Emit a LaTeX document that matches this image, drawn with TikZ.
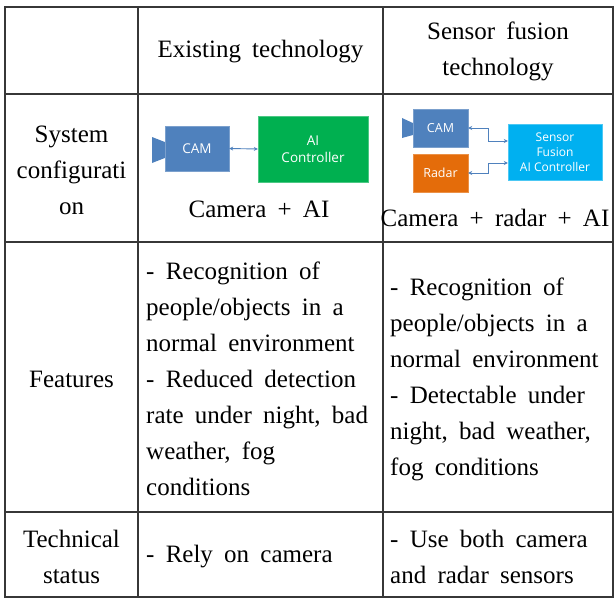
\documentclass[tikz,border=0pt]{standalone}
\usepackage{fontspec}
\setmainfont{Liberation Serif}
\newfontfamily\boxfont{Open Sans}
\definecolor{camblue}{RGB}{79,129,189}
\definecolor{aigreen}{RGB}{0,176,80}
\definecolor{fusblue}{RGB}{0,176,240}
\definecolor{radorange}{RGB}{228,108,10}
\definecolor{gridgray}{RGB}{55,55,55}
\usepackage{tikz}
\usetikzlibrary{arrows.meta,positioning,calc}
\newcommand{\cellfont}{\fontsize{25}{36}\selectfont\spaceskip=0.45em plus 0.2em minus 0.1em\relax}

\begin{document}
\begin{tikzpicture}[x=1pt, y=-1pt,
    cell/.style={inner sep=0pt, font=\cellfont},
    box/.style={inner sep=0pt, text=white, align=center, font=\boxfont\fontsize{12.5}{15}\selectfont},
    link/.style={draw=camblue, line width=0.9pt, {Stealth[length=4pt,width=4pt]}-{Stealth[length=4pt,width=4pt]}}]
        \useasboundingbox (0,0) rectangle (615,599);
        % Grid
        \draw[gridgray, line width=1.2pt] (5,7) rectangle (613,597);
        \draw[gridgray, line width=1.2pt] (138,7) -- (138,597) (383,7) -- (383,597);
        \draw[gridgray, line width=1.2pt] (5,94) -- (613,94) (5,242) -- (613,242) (5,512) -- (613,512);
        % Headers
        \node[cell] (hdrOld) at (260.5,52) {Existing technology};
        \node[cell,align=center] (hdrNew) at (498,51) {Sensor fusion\\technology};
        % Row labels
        \node[cell,align=center] (labConf) at (71.5,170) {System\\configurati\\on};
        \node[cell] (labFeat) at (71.5,379) {Features};
        \node[cell,align=center] (labTech) at (71.5,557) {Technical\\status};
        % Existing configuration
        \node[box,fill=camblue,draw=camblue!75!white,minimum width=64pt,minimum height=45pt,font=\boxfont\fontsize{13.5}{16}\selectfont] (camOld) at (197,148.5) {CAM};
        \fill[camblue] (camOld.west) ++(0,-6.5) -- (152,137) -- (152,163) -- ($(camOld.west)+(0,9.5)$) -- cycle;
        \node[box,fill=aigreen,draw=aigreen!70!white,minimum width=110pt,minimum height=66pt,font=\boxfont\fontsize{13.5}{17}\selectfont] (aiOld) at (313,149) {AI\\Controller};
        \draw[link] (camOld.east) -- (aiOld.west);
        \node[cell] (capOld) at (259,209) {Camera + AI};
        % Sensor fusion configuration
        \node[box,fill=camblue,draw=camblue!75!white,minimum width=55pt,minimum height=38pt] (camNew) at (440.5,128) {CAM};
        \fill[camblue] (camNew.west) ++(0,-5) -- (402,118) -- (402,138) -- ($(camNew.west)+(0,7)$) -- cycle;
        \node[box,fill=radorange,draw=radorange!75!white,minimum width=55pt,minimum height=38pt] (radNew) at (440.5,173) {Radar};
        \node[box,fill=fusblue,draw=fusblue!70!white,minimum width=94pt,minimum height=56pt,font=\boxfont\fontsize{12}{15}\selectfont] (fusNew) at (555,152) {Sensor\\Fusion\\AI Controller};
        \draw[link] (camNew.east) -- ++(20,0) |- ([yshift=11pt]fusNew.west);
        \draw[link] (radNew.east) -- ++(20,0) |- ([yshift=-11pt]fusNew.west);
        \node[cell] (capNew) at (495,218) {Camera + radar + AI};
        % Features
        \node[cell,align=left,anchor=west] (featOld) at (146,379) {- Recognition of\\people/objects in a\\normal environment\\- Reduced detection\\rate under night, bad\\weather, fog\\conditions};
        \node[cell,align=left,anchor=west] (featNew) at (390,379) {- Recognition of\\people/objects in a\\normal environment\\- Detectable under\\night, bad weather,\\fog conditions};
        % Technical status
        \node[cell,anchor=west] (techOld) at (146,557) {- Rely on camera};
        \node[cell,align=left,anchor=west] (techNew) at (390,557) {- Use both camera\\and radar sensors};
      \end{tikzpicture}
\end{document}
